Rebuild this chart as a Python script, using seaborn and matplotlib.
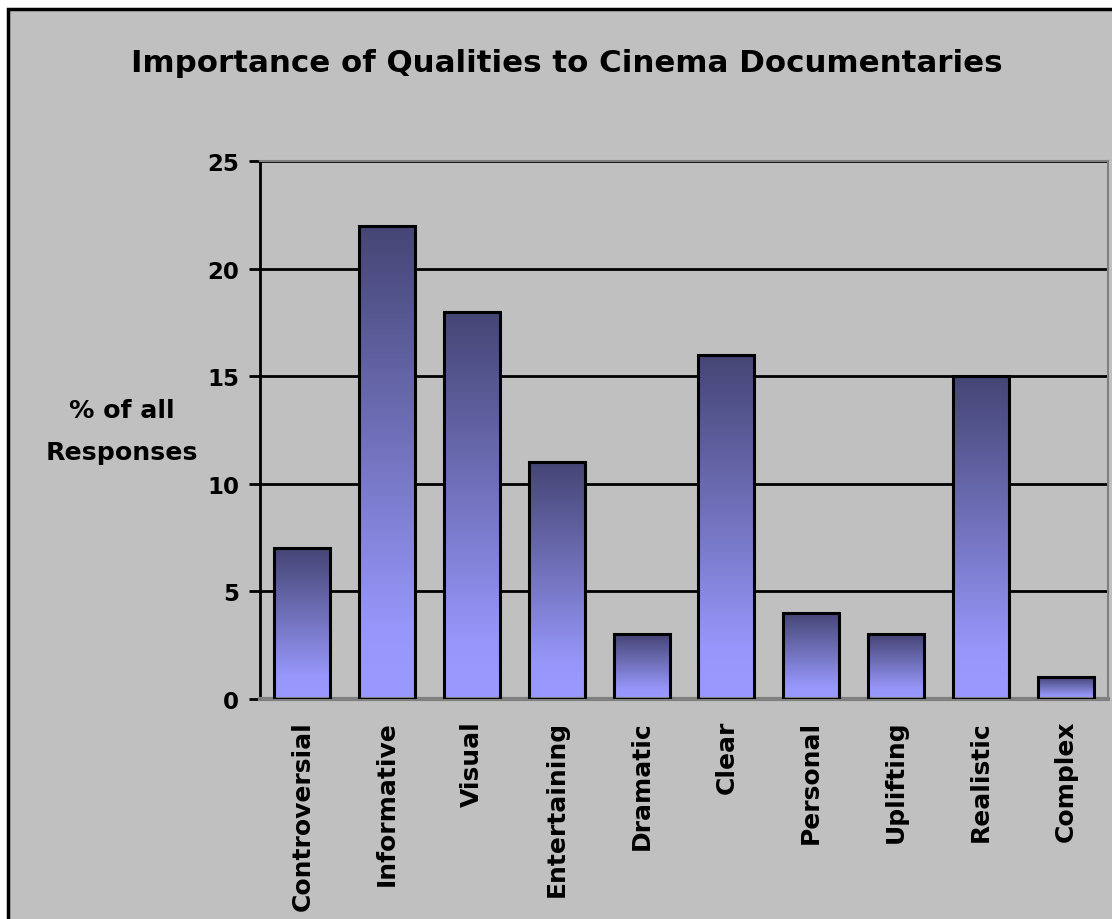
import numpy as np
import pandas as pd
import seaborn as sns
import matplotlib.pyplot as plt
from matplotlib.colors import LinearSegmentedColormap
from matplotlib.patches import Rectangle

# data
qualities = ['Controversial', 'Informative', 'Visual', 'Entertaining', 'Dramatic',
             'Clear', 'Personal', 'Uplifting', 'Realistic', 'Complex']
pct_responses = [7, 22, 18, 11, 3, 16, 4, 3, 15, 1]
y_ticks = [0, 5, 10, 15, 20, 25]

df = pd.DataFrame({'Quality': qualities, 'Pct': pct_responses})

sns.set_style('white')
plt.rcParams['font.family'] = ['DejaVu Sans']
plt.rcParams['font.weight'] = 'bold'
plt.rcParams['text.color'] = 'black'
plt.rcParams['xtick.color'] = 'black'
plt.rcParams['ytick.color'] = 'black'

bg = '#c0c0c0'
fig = plt.figure(figsize=(11.12, 9.2), dpi=100, facecolor='white')
# outer chart frame, kept below the axes
frame = Rectangle((8 / 1112, -0.01), 1.02, 1 - 10 / 920 + 0.01,
                  transform=fig.transFigure, facecolor=bg,
                  edgecolor='black', linewidth=2.5, zorder=-5)
fig.add_artist(frame)

ax = fig.add_axes([260 / 1112, 1 - 700 / 920, (1108 - 260) / 1112, (700 - 162) / 920])
ax.set_facecolor(bg)

sns.barplot(data=df, x='Quality', y='Pct', ax=ax, width=0.66,
            facecolor='none', edgecolor='black', linewidth=2.2, zorder=3)

# gradient fill inside each bar (dark at top, light at bottom)
cmap = LinearSegmentedColormap.from_list(
    'bar_grad', [(0, '#9999ff'), (0.15, '#9797fb'), (0.5, '#7575c2'), (1, '#454575')])
grad = np.linspace(0, 1, 256).reshape(-1, 1)
for p in ax.patches:
    x0, w, h = p.get_x(), p.get_width(), p.get_height()
    ax.imshow(grad, cmap=cmap, origin='lower', aspect='auto',
              extent=(x0, x0 + w, 0, h), zorder=2, interpolation='bilinear')

ax.set_xlim(-0.5, len(qualities) - 0.5)
ax.set_ylim(0, 25)
ax.set_yticks(y_ticks)
ax.yaxis.grid(True, color='black', linewidth=2, zorder=1)
ax.set_axisbelow(True)

ax.tick_params(axis='y', length=8, width=2, color='black', direction='out',
               labelsize=16.5, pad=7, left=True)
ax.tick_params(axis='x', length=0, labelsize=18, pad=15)
for lab in ax.get_xticklabels():
    lab.set_rotation(90)
    lab.set_fontweight('bold')
for lab in ax.get_yticklabels():
    lab.set_fontweight('bold')

ax.spines['left'].set_color('black')
ax.spines['left'].set_linewidth(2)
ax.spines['bottom'].set_color('#808080')
ax.spines['bottom'].set_linewidth(3)
for s in ['top', 'right']:
    ax.spines[s].set_color('#808080')
    ax.spines[s].set_linewidth(1.5)

ax.set_xlabel('')
ax.set_ylabel('')
fig.text(122 / 1112, 1 - 432 / 920, '% of all\nResponses', ha='center', va='center',
         fontsize=18.2, fontweight='bold', linespacing=1.9)
fig.text(567 / 1112, 1 - 63 / 920, 'Importance of Qualities to Cinema Documentaries',
         ha='center', va='center', fontsize=22.2, fontweight='bold')

fig.savefig('out.png', dpi=100, facecolor='white')
